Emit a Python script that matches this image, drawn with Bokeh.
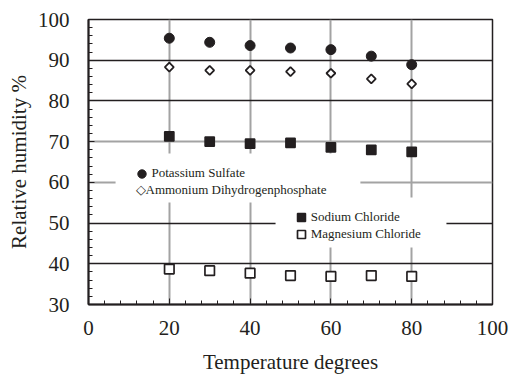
import math
from bokeh.plotting import figure
from bokeh.models import (Range1d, SingleIntervalTicker, FixedTicker, Grid,
                          Legend, LegendItem, BoxAnnotation)
from bokeh.embed import file_html
from bokeh.resources import INLINE

# ---- data ----
temperature = [20, 30, 40, 50, 60, 70, 80]
potassium_sulfate = [95.4, 94.4, 93.6, 93.0, 92.6, 91.0, 88.9]
ammonium_dihydrogenphosphate = [88.3, 87.5, 87.5, 87.2, 86.8, 85.4, 84.2]
sodium_chloride = [71.3, 70.0, 69.5, 69.7, 68.6, 68.0, 67.5]
magnesium_chloride = [38.7, 38.3, 37.7, 37.1, 36.9, 37.1, 36.9]

dark_grid_values = [40, 50, 80, 90]
gray_grid_values = [60, 70]
vertical_grid_values = [20, 40, 60, 80]

# ---- layout / style constants ----
TEXT = "#231f20"
FONT = "Liberation Serif"
GRAY = "#a3a3a3"
# white legend backing boxes (data units)
box1 = dict(left=6.7, right=67.3, bottom=55.05, top=67.1)
box2 = dict(left=46.3, right=88.6, bottom=44.0, top=56.3)

p = figure(width=509, height=376, x_range=Range1d(0, 100), y_range=Range1d(30, 100),
           output_backend="svg", toolbar_location=None,
           min_border_left=88, min_border_right=17, min_border_top=19, min_border_bottom=72)
p.background_fill_color = "white"
p.border_fill_color = "white"
p.outline_line_color = TEXT
p.outline_line_width = 1.5

# axes
p.xaxis.ticker = SingleIntervalTicker(interval=20, num_minor_ticks=5)
p.yaxis.ticker = SingleIntervalTicker(interval=10, num_minor_ticks=5)
for ax in (p.xaxis, p.yaxis):
    ax.axis_line_color = TEXT
    ax.axis_line_width = 2
    ax.major_tick_line_color = TEXT
    ax.minor_tick_line_color = TEXT
    ax.major_tick_in = 6
    ax.major_tick_out = 0
    ax.minor_tick_in = 4
    ax.minor_tick_out = 0
    ax.major_label_text_font = FONT
    ax.major_label_text_font_size = "21px"
    ax.major_label_text_color = TEXT
    ax.axis_label_text_font = FONT
    ax.axis_label_text_font_size = "21px"
    ax.axis_label_text_color = TEXT
    ax.axis_label_text_font_style = "normal"
p.xaxis.axis_label = "Temperature degrees"
p.yaxis.axis_label = "Relative humidity %"
p.xaxis.major_label_standoff = 16
p.yaxis.major_label_standoff = 19
p.xaxis.axis_label_standoff = 12
p.yaxis.axis_label_standoff = 4

# grids
p.xgrid.visible = False
p.ygrid.visible = False
p.add_layout(Grid(dimension=0, ticker=FixedTicker(ticks=vertical_grid_values),
                  grid_line_color=GRAY, grid_line_width=2))
p.add_layout(Grid(dimension=1, ticker=FixedTicker(ticks=gray_grid_values),
                  grid_line_color=GRAY, grid_line_width=2))
p.add_layout(Grid(dimension=1, ticker=FixedTicker(ticks=dark_grid_values),
                  grid_line_color=TEXT, grid_line_width=1.3))

# series
r_k = p.scatter(temperature, potassium_sulfate, marker="circle", size=10,
                fill_color=TEXT, line_color=TEXT, line_width=1)
r_a = p.scatter(temperature, ammonium_dihydrogenphosphate, marker="square", size=6.3,
                angle=math.pi / 4, fill_color="white", line_color=TEXT, line_width=1.8)
r_na = p.scatter(temperature, sodium_chloride, marker="square", size=9.3,
                 fill_color=TEXT, line_color=TEXT, line_width=1.5)
r_mg = p.scatter(temperature, magnesium_chloride, marker="square", size=9.5,
                 fill_color="white", line_color=TEXT, line_width=1.7)

# legend backing boxes
for b in (box1, box2):
    p.add_layout(BoxAnnotation(fill_color="white", fill_alpha=1, line_color=None, **b))

def make_legend(label, renderer, loc, gw, gh):
    lg = Legend(items=[LegendItem(label=label, renderers=[renderer])], location=loc,
                glyph_width=gw, glyph_height=gh, label_height=gh, label_standoff=0,
                padding=0, margin=0, spacing=0,
                background_fill_alpha=0, border_line_color=None,
                label_text_font=FONT, label_text_font_size="13px", label_text_color=TEXT)
    p.add_layout(lg)

make_legend("Potassium Sulfate", r_k, (42.5, 120.5), 21, 21)
make_legend("\u25c7Ammonium Dihydrogenphosphate", r_a, (47.5, 106), 0, 16)
make_legend("Sodium Chloride", r_na, (202.7, 77), 20, 20)
make_legend("Magnesium Chloride", r_mg, (202.7, 60), 20, 20)

open("out.html", "w").write(file_html(p, INLINE))
